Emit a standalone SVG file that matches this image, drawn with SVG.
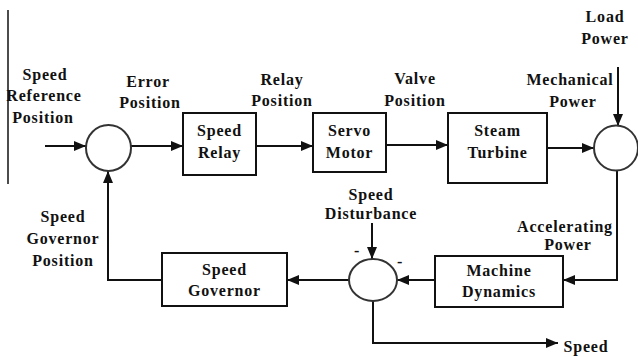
<svg xmlns="http://www.w3.org/2000/svg" width="638" height="357" viewBox="0 0 638 357">
  <style>
    text { font-family: "Liberation Serif", "Times New Roman", serif; font-weight: bold; font-size: 16px; letter-spacing: 0.8px; fill: #111; text-anchor: middle; }
    .box { fill: #fff; stroke: #111; stroke-width: 2; }
    .sum { fill: #fff; stroke: #333; stroke-width: 2; }
    .wire { fill: none; stroke: #111; stroke-width: 2; }
  </style>
  <defs>
    <marker id="arrow" viewBox="0 0 12 10" refX="12" refY="5" markerWidth="12" markerHeight="10" markerUnits="userSpaceOnUse" orient="auto">
      <path d="M0,0 L12,5 L0,10 Z" fill="#111"/>
    </marker>
  </defs>
  <rect width="638" height="357" fill="#fff"/>
  <line x1="8" y1="10" x2="8" y2="184" stroke="#111" stroke-width="1.5"/>

  <g id="connectors">
    <path class="wire" d="M45,146 L86,146" marker-end="url(#arrow)"/>
    <path class="wire" d="M131,146 L183,146" marker-end="url(#arrow)"/>
    <path class="wire" d="M256,146 L313,146" marker-end="url(#arrow)"/>
    <path class="wire" d="M386,145 L448,145" marker-end="url(#arrow)"/>
    <path class="wire" d="M547,148 L594,148" marker-end="url(#arrow)"/>
    <path class="wire" d="M618,67 L618,126" marker-end="url(#arrow)"/>
    <path class="wire" d="M617,170 L617,280 L563,280" marker-end="url(#arrow)"/>
    <path class="wire" d="M435,280 L397,280" marker-end="url(#arrow)"/>
    <path class="wire" d="M372,223 L372,259" marker-end="url(#arrow)"/>
    <path class="wire" d="M373,301 L373,343 L558,343" marker-end="url(#arrow)"/>
    <path class="wire" d="M349,280 L287,280" marker-end="url(#arrow)"/>
    <path class="wire" d="M162,280 L108,280 L108,171" marker-end="url(#arrow)"/>
  </g>

  <g id="sum-reference">
    <ellipse class="sum" cx="108.5" cy="148" rx="22.5" ry="23"/>
  </g>
  <g id="sum-power">
    <ellipse class="sum" cx="616" cy="148" rx="22" ry="22.5"/>
  </g>
  <g id="sum-speed">
    <ellipse class="sum" cx="373" cy="280" rx="24" ry="21"/>
    <text x="357" y="256">-</text>
    <text x="400" y="267">-</text>
  </g>

  <g id="speed-relay">
    <rect class="box" x="183" y="113" width="73" height="62"/>
    <text x="219.5" y="136">Speed</text>
    <text x="219.5" y="158">Relay</text>
  </g>
  <g id="servo-motor">
    <rect class="box" x="313" y="113" width="73" height="59"/>
    <text x="349.5" y="136">Servo</text>
    <text x="349.5" y="158">Motor</text>
  </g>
  <g id="steam-turbine">
    <rect class="box" x="448" y="113" width="99" height="70"/>
    <text x="497.5" y="136">Steam</text>
    <text x="497.5" y="158">Turbine</text>
  </g>
  <g id="machine-dynamics">
    <rect class="box" x="435" y="256" width="128" height="51"/>
    <text x="499" y="276">Machine</text>
    <text x="499" y="297">Dynamics</text>
  </g>
  <g id="speed-governor">
    <rect class="box" x="162" y="253" width="125" height="53"/>
    <text x="224.5" y="275">Speed</text>
    <text x="224.5" y="296">Governor</text>
  </g>

  <g id="labels">
    <text x="45" y="80">Speed</text>
    <text x="44" y="101">Reference</text>
    <text x="43" y="123">Position</text>
    <text x="148" y="87">Error</text>
    <text x="150" y="108">Position</text>
    <text x="282" y="85">Relay</text>
    <text x="282" y="106">Position</text>
    <text x="415" y="84">Valve</text>
    <text x="415" y="106">Position</text>
    <text x="605" y="22">Load</text>
    <text x="605" y="44">Power</text>
    <text x="570" y="85">Mechanical</text>
    <text x="573" y="107">Power</text>
    <text x="565" y="232">Accelerating</text>
    <text x="568" y="250">Power</text>
    <text x="371" y="200">Speed</text>
    <text x="371" y="219">Disturbance</text>
    <text x="63" y="222">Speed</text>
    <text x="63" y="244">Governor</text>
    <text x="63" y="266">Position</text>
    <text x="586" y="352">Speed</text>
  </g>
</svg>
